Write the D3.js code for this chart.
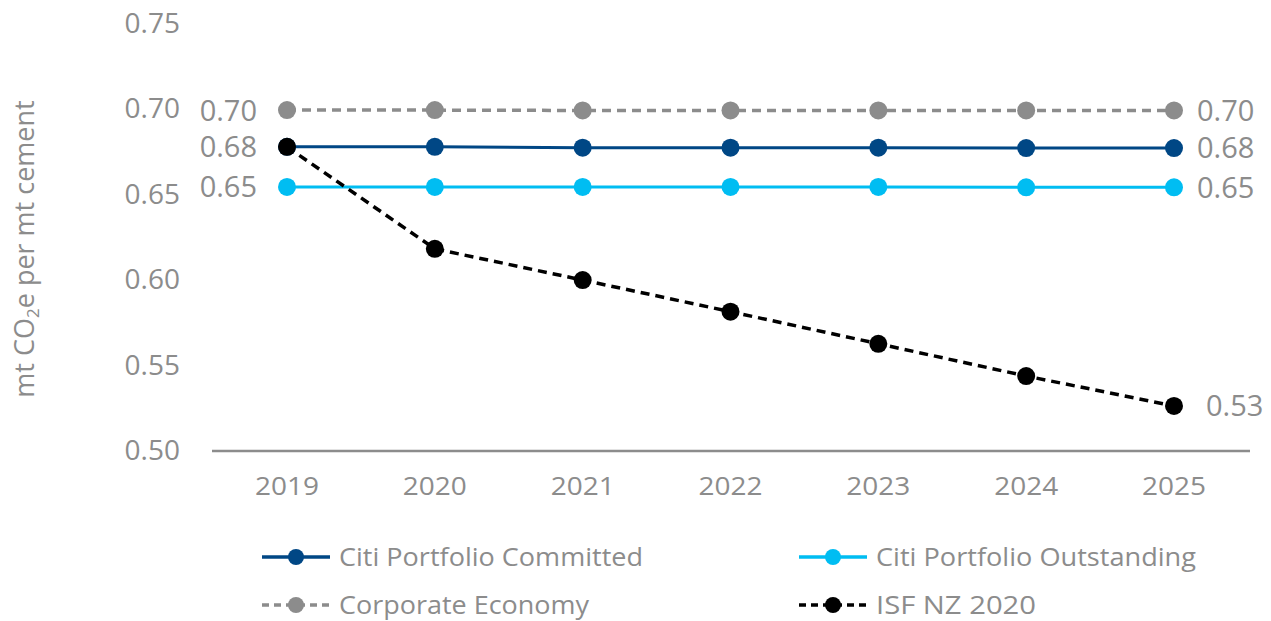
<!DOCTYPE html>
<html>
<head>
<meta charset="utf-8">
<script src="https://cdn.jsdelivr.net/npm/d3@7"></script>
<style>
  body { margin: 0; background: #fff; }
  text { font-family: "Open Sans", "DejaVu Sans", sans-serif; fill: #8c8c8c; }
</style>
</head>
<body>
<div id="chart"></div>
<script>
// data
var years = ["2019", "2020", "2021", "2022", "2023", "2024", "2025"];
var committed = [0.6775, 0.6775, 0.6770, 0.6770, 0.6770, 0.6768, 0.6768];
var outstanding = [0.6540, 0.6540, 0.6540, 0.6540, 0.6540, 0.6538, 0.6538];
var corporate = [0.6990, 0.6990, 0.6988, 0.6988, 0.6988, 0.6988, 0.6988];
var isfNZ = [0.6775, 0.6178, 0.5995, 0.5810, 0.5622, 0.5433, 0.5258];
var yTicks = [0.50, 0.55, 0.60, 0.65, 0.70, 0.75];

var series = [
  {name: "Corporate Economy", values: corporate, color: "#8c8c8c", dash: "9,6", start: "0.70", end: "0.70"},
  {name: "Citi Portfolio Committed", values: committed, color: "#004785", dash: null, start: "0.68", end: "0.68"},
  {name: "Citi Portfolio Outstanding", values: outstanding, color: "#00bdf2", dash: null, start: "0.65", end: "0.65"},
  {name: "ISF NZ 2020", values: isfNZ, color: "#000000", dash: "9,6", start: null, end: "0.53"}
];

var svgWidth = 1271;
var svgHeight = 621;

var svg = d3.select("#chart")
  .append("svg")
  .attr("width", svgWidth)
  .attr("height", svgHeight);

var x = d3.scalePoint()
  .domain(years)
  .range([287, 1174]);

var y = d3.scaleLinear()
  .domain([0.50, 0.75])
  .range([450, 23]);

// y tick labels (no axis line)
svg.append("g").selectAll("text")
  .data(yTicks)
  .enter()
  .append("text")
  .attr("x", 180)
  .attr("y", d => y(d))
  .attr("dy", "0.36em")
  .attr("text-anchor", "end")
  .style("font-size", "28px")
  .text(d => d.toFixed(2));

// x axis line
svg.append("line")
  .attr("x1", 212).attr("x2", 1250)
  .attr("y1", 451).attr("y2", 451)
  .attr("stroke", "#8c8c8c")
  .attr("stroke-width", 2.5);

svg.append("g").selectAll("text")
  .data(years)
  .enter()
  .append("text")
  .attr("x", d => x(d))
  .attr("y", 495)
  .attr("text-anchor", "middle")
  .attr("textLength", 64)
  .attr("lengthAdjust", "spacingAndGlyphs")
  .style("font-size", "25px")
  .text(d => d);

// y axis title
var yTitle = svg.append("text")
  .attr("transform", "translate(34, 249) rotate(-90)")
  .attr("text-anchor", "middle")
  .style("font-size", "27px");
yTitle.append("tspan").text("mt CO");
yTitle.append("tspan").attr("baseline-shift", "-30%").style("font-size", "17px").text("2");
yTitle.append("tspan").text("e per mt cement");

var line = d3.line()
  .x((d, i) => x(years[i]))
  .y(d => y(d));

// draw lines then points
series.forEach(function(s) {
  svg.append("path")
    .datum(s.values)
    .attr("d", line)
    .attr("fill", "none")
    .attr("stroke", s.color)
    .attr("stroke-width", s.dash ? 3.5 : 3)
    .attr("stroke-dasharray", s.dash);
});

series.forEach(function(s) {
  svg.append("g").selectAll("circle")
    .data(s.values)
    .enter()
    .append("circle")
    .attr("cx", (d, i) => x(years[i]))
    .attr("cy", d => y(d))
    .attr("r", 9)
    .attr("fill", s.color);
});

// data labels
series.forEach(function(s) {
  var n = s.values.length;
  if (s.start) {
    svg.append("text")
      .attr("x", 257)
      .attr("y", y(s.values[0]))
      .attr("dy", "0.36em")
      .attr("text-anchor", "end")
      .style("font-size", "29px")
      .text(s.start);
  }
  svg.append("text")
    .attr("x", s.start ? 1197 : 1206)
    .attr("y", y(s.values[n - 1]))
    .attr("dy", "0.36em")
    .style("font-size", "29px")
    .text(s.end);
});

// legend
var legendItems = [
  {s: series[1], lx: 262, ly: 557, tl: 304},
  {s: series[2], lx: 799, ly: 557, tl: 320},
  {s: series[0], lx: 262, ly: 605, tl: 250},
  {s: series[3], lx: 799, ly: 605, tl: 160}
];

var legend = svg.append("g");
legendItems.forEach(function(item) {
  var g = legend.append("g").attr("transform", `translate(${item.lx}, ${item.ly})`);
  g.append("line")
    .attr("x1", 0).attr("x2", 68)
    .attr("stroke", item.s.color)
    .attr("stroke-width", 3.5)
    .attr("stroke-dasharray", item.s.dash ? "7,5" : null);
  g.append("circle")
    .attr("cx", 34)
    .attr("r", 8)
    .attr("fill", item.s.color);
  g.append("text")
    .attr("x", 77)
    .attr("dy", "0.36em")
    .attr("textLength", item.tl)
    .attr("lengthAdjust", "spacingAndGlyphs")
    .style("font-size", "25px")
    .text(item.s.name);
});
</script>
</body>
</html>
